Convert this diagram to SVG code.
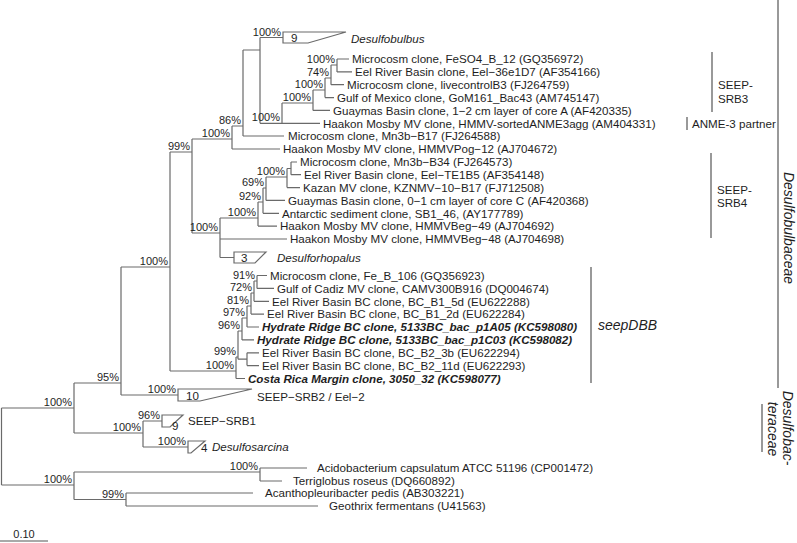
<svg xmlns="http://www.w3.org/2000/svg" width="797" height="543" viewBox="0 0 797 543">
<defs>
<style>
text{font-family:"Liberation Sans",Arial,sans-serif;font-size:11.6px;fill:#1e1e1e}
.bs{text-anchor:end;font-size:11px}
.it{font-style:italic}
.bi{font-style:italic;font-weight:bold}
.fam{font-size:14px;font-style:italic;text-anchor:middle}
.grp{font-size:14px;font-style:italic}
.br{fill:none;stroke:#6a6a6a;stroke-width:1.2}
.tri{fill:#fff;stroke:#6a6a6a;stroke-width:1.2}
.bar{stroke:#555;stroke-width:1.2}
</style>
</defs>
<rect width="797" height="543" fill="#fff"/>

<g id="connectors" class="br">
<path d="M1.5,408V485M1.5,408H74M1.5,485H74"/>
<path d="M74,383V433M74,383H121M74,433H143"/>
<path d="M143,421V447M143,421H162M143,447H188"/>
<path d="M121,267V395M121,267H170M121,395H178"/>
<path d="M170,152V371M170,152H192M170,371H236"/>
<path d="M192,139V233M192,139H232M192,233H220"/>
<path d="M232,126V149M232,126H243M232,149H280"/>
<path d="M243,50V136M243,50H260M243,136H284"/>
<path d="M260,37.5V123.3M260,37.5H283M260,123.3H282"/>
<path d="M282,103V123.3M282,103H313M282,123.3H320"/>
<path d="M313,90V110.4M313,90H325M313,110.4H330"/>
<path d="M325,78V97.6M325,78H331M325,97.6H334"/>
<path d="M331,65V84.7M331,65H337M331,84.7H344"/>
<path d="M337,59V71.9M337,59H349M337,71.9H352"/>
<path d="M220,218V257.5M220,218H258M220,239H287M220,257.5H234"/>
<path d="M258,202V226.1M258,202H263M258,226.1H277"/>
<path d="M263,188V213.3M263,188H266M263,213.3H279"/>
<path d="M266,177V200.4M266,177H287M266,200.4H285"/>
<path d="M287,168.5V187.6M287,168.5H291M287,187.6H300"/>
<path d="M291,162V174.7M291,162H297M291,174.7H301"/>
<path d="M236,357V378.5M236,357H238M236,378.5H245"/>
<path d="M238,331V359.2M238,331H242M238,359.2H247"/>
<path d="M242,318V339.9M242,318H247M242,339.9H254"/>
<path d="M247,306V327M247,306H251M247,327H259"/>
<path d="M251,293V314.1M251,293H254M251,314.1H264"/>
<path d="M254,281V301.3M254,281H257M254,301.3H269"/>
<path d="M257,275.5V288.4M257,275.5H267M257,288.4H274"/>
<path d="M247,352.8V365.6M247,352.8H259M247,365.6H259"/>
<path d="M74,472V499.5M74,472H260M74,499.5H126"/>
<path d="M260,468V481M260,468H307M260,481H282"/>
<path d="M126,493V506M126,493H253M126,506H318"/>
</g>

<g id="bootstrap">
<g id="n-A"><text class="bs" x="72" y="406">100%</text></g>
<g id="n-O"><text class="bs" x="72" y="483">100%</text></g>
<g id="n-B"><text class="bs" x="119" y="381">95%</text></g>
<g id="n-S"><text class="bs" x="141" y="431">100%</text></g>
<g id="n-SRB1"><text class="bs" x="160" y="419">96%</text></g>
<g id="n-Dsarc"><text class="bs" x="186" y="445">100%</text></g>
<g id="n-C"><text class="bs" x="168" y="265">100%</text></g>
<g id="n-SRB2"><text class="bs" x="176" y="393">100%</text></g>
<g id="n-E"><text class="bs" x="190" y="150">99%</text></g>
<g id="n-K"><text class="bs" x="234" y="369">100%</text></g>
<g id="n-F"><text class="bs" x="230" y="137">100%</text></g>
<g id="n-G"><text class="bs" x="218" y="231">100%</text></g>
<g id="n-R"><text class="bs" x="241" y="124">86%</text></g>
<g id="n-Dbulb"><text class="bs" x="281" y="35.5">100%</text></g>
<g id="n-P5"><text class="bs" x="280" y="121">100%</text></g>
<g id="n-P4"><text class="bs" x="311" y="101">100%</text></g>
<g id="n-P3"><text class="bs" x="323" y="88">100%</text></g>
<g id="n-P2"><text class="bs" x="329" y="76">74%</text></g>
<g id="n-P1"><text class="bs" x="335" y="63">100%</text></g>
<g id="n-T"><text class="bs" x="256" y="216">100%</text></g>
<g id="n-U3"><text class="bs" x="261" y="200">92%</text></g>
<g id="n-U2"><text class="bs" x="264" y="186">69%</text></g>
<g id="n-U1"><text class="bs" x="285" y="175">100%</text></g>
<g id="n-X99"><text class="bs" x="236" y="355">99%</text></g>
<g id="n-N5"><text class="bs" x="240" y="329">96%</text></g>
<g id="n-N4"><text class="bs" x="245" y="316">97%</text></g>
<g id="n-N3"><text class="bs" x="249" y="304">81%</text></g>
<g id="n-N2"><text class="bs" x="252" y="291">72%</text></g>
<g id="n-N1"><text class="bs" x="255" y="279">91%</text></g>
<g id="n-O1"><text class="bs" x="258" y="470">100%</text></g>
<g id="n-O2"><text class="bs" x="124" y="497.5">99%</text></g>
</g>

<g id="clade-desulfobulbus">
<polygon class="tri" points="283,32 346,32 308,43 283,43"/>
<text x="291" y="42">9</text>
<text class="it" x="351" y="43">Desulfobulbus</text>
</g>
<g id="clade-desulforhopalus">
<polygon class="tri" points="234,252 266,252 255,263 234,263"/>
<text x="241" y="262">3</text>
<text class="it" x="277" y="262">Desulforhopalus</text>
</g>
<g id="clade-srb2">
<polygon class="tri" points="178,389 252,389 200,401 178,401"/>
<text x="186" y="400">10</text>
<text x="257" y="401">SEEP−SRB2 / Eel−2</text>
</g>
<g id="clade-srb1">
<polygon class="tri" points="162,415 183,415 170,427 162,427"/>
<text x="172" y="430">9</text>
<text x="188" y="425">SEEP−SRB1</text>
</g>
<g id="clade-desulfosarcina">
<polygon class="tri" points="188,441 205,441 191,453 188,453"/>
<text x="201" y="452">4</text>
<text class="it" x="212" y="451">Desulfosarcina</text>
</g>

<g id="leaf-1"><text x="352" y="63">Microcosm clone, FeSO4_B_12 (GQ356972)</text></g>
<g id="leaf-2"><text x="355" y="76">Eel River Basin clone, Eel−36e1D7 (AF354166)</text></g>
<g id="leaf-3"><text x="347" y="89">Microcosm clone, livecontrolB3 (FJ264759)</text></g>
<g id="leaf-4"><text x="337" y="101.5">Gulf of Mexico clone, GoM161_Bac43 (AM745147)</text></g>
<g id="leaf-5"><text x="333" y="114.5">Guaymas Basin clone, 1−2 cm layer of core A (AF420335)</text></g>
<g id="leaf-6"><text x="323" y="127.5">Haakon Mosby MV clone, HMMV-sortedANME3agg (AM404331)</text></g>
<g id="leaf-7"><text x="288" y="140">Microcosm clone, Mn3b−B17 (FJ264588)</text></g>
<g id="leaf-8"><text x="283" y="153">Haakon Mosby MV clone, HMMVPog−12 (AJ704672)</text></g>
<g id="leaf-9"><text x="300" y="166">Microcosm clone, Mn3b−B34 (FJ264573)</text></g>
<g id="leaf-10"><text x="304" y="179">Eel River Basin clone, Eel−TE1B5 (AF354148)</text></g>
<g id="leaf-11"><text x="303" y="191.5">Kazan MV clone, KZNMV−10−B17 (FJ712508)</text></g>
<g id="leaf-12"><text x="288" y="204.5">Guaymas Basin clone, 0−1 cm layer of core C (AF420368)</text></g>
<g id="leaf-13"><text x="282" y="217.5">Antarctic sediment clone, SB1_46, (AY177789)</text></g>
<g id="leaf-14"><text x="280" y="230">Haakon Mosby MV clone, HMMVBeg−49 (AJ704692)</text></g>
<g id="leaf-15"><text x="290" y="243">Haakon Mosby MV clone, HMMVBeg−48 (AJ704698)</text></g>
<g id="leaf-16"><text x="270" y="279.5">Microcosm clone, Fe_B_106 (GQ356923)</text></g>
<g id="leaf-17"><text x="277" y="292.5">Gulf of Cadiz MV clone, CAMV300B916 (DQ004674)</text></g>
<g id="leaf-18"><text x="272" y="305.5">Eel River Basin BC clone, BC_B1_5d (EU622288)</text></g>
<g id="leaf-19"><text x="267" y="318">Eel River Basin BC clone, BC_B1_2d (EU622284)</text></g>
<g id="leaf-20"><text class="bi" x="262" y="331">Hydrate Ridge BC clone, 5133BC_bac_p1A05 (KC598080)</text></g>
<g id="leaf-21"><text class="bi" x="257" y="344">Hydrate Ridge BC clone, 5133BC_bac_p1C03 (KC598082)</text></g>
<g id="leaf-22"><text x="262" y="357">Eel River Basin BC clone, BC_B2_3b (EU622294)</text></g>
<g id="leaf-23"><text x="262" y="369.5">Eel River Basin BC clone, BC_B2_11d (EU622293)</text></g>
<g id="leaf-24"><text class="bi" x="248" y="382.5">Costa Rica Margin clone, 3050_32 (KC598077)</text></g>
<g id="leaf-25"><text x="317" y="472">Acidobacterium capsulatum ATCC 51196 (CP001472)</text></g>
<g id="leaf-26"><text x="293" y="485">Terriglobus roseus (DQ660892)</text></g>
<g id="leaf-27"><text x="265" y="497">Acanthopleuribacter pedis (AB303221)</text></g>
<g id="leaf-28"><text x="329" y="510">Geothrix fermentans (U41563)</text></g>

<g id="group-srb3">
<line class="bar" x1="712" y1="52" x2="712" y2="112"/>
<text x="718" y="89">SEEP-</text>
<text x="718" y="103">SRB3</text>
</g>
<g id="group-anme3">
<line class="bar" x1="687" y1="117" x2="687" y2="130"/>
<text x="692" y="127.5">ANME-3 partner</text>
</g>
<g id="group-srb4">
<line class="bar" x1="711" y1="153" x2="711" y2="238"/>
<text x="717" y="194">SEEP-</text>
<text x="717" y="207">SRB4</text>
</g>
<g id="group-seepdbb">
<line class="bar" x1="591" y1="267" x2="591" y2="383"/>
<text class="grp" x="598" y="330">seepDBB</text>
</g>
<g id="family-desulfobulbaceae">
<line class="bar" x1="778" y1="0" x2="778" y2="388"/>
<text class="fam" transform="translate(784,228) rotate(90)">Desulfobulbaceae</text>
</g>
<g id="family-desulfobacteraceae">
<line class="bar" x1="762" y1="404" x2="762" y2="452"/>
<text class="fam" transform="translate(783,428) rotate(90)">Desulfobac-</text>
<text class="fam" transform="translate(768,429) rotate(90)">teraceae</text>
</g>
<g id="scale-bar">
<line class="bar" x1="0" y1="541" x2="48" y2="541"/>
<text x="24" y="537.5" text-anchor="middle" style="font-size:11px">0.10</text>
</g>
</svg>
